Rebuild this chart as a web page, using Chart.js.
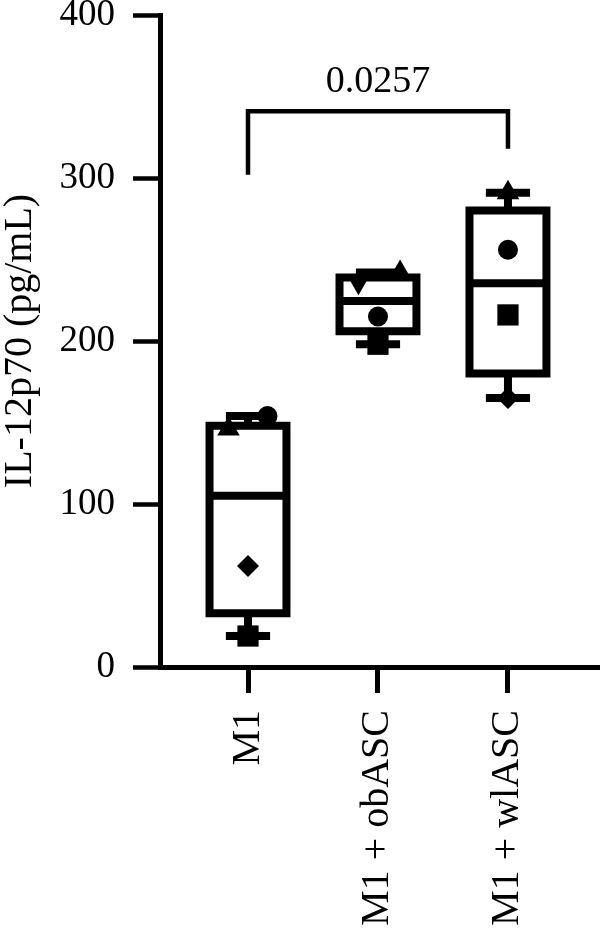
<!DOCTYPE html>
<html lang="en">
<head>
  <meta charset="UTF-8">
  <title>IL-12p70</title>
  <script src="https://cdn.jsdelivr.net/npm/chart.js"></script>
  <style>
    html, body { margin: 0; padding: 0; background: #fff; overflow: hidden; }
    #wrap { width: 600px; height: 929px; position: relative; }
    canvas { display: block; }
  </style>
</head>
<body>
  <div id="wrap"><canvas id="chart" width="600" height="929"></canvas></div>
  <script>
    // groups and box summaries (pg/mL)
    const groups = ['M1', 'M1 + obASC', 'M1 + wlASC'];
    const boxMin = [19, 198, 165];
    const boxQ1 = [33, 206, 180];
    const boxMedian = [105, 224.5, 235.5];
    const boxQ3 = [148, 239, 280];
    const boxMax = [154, 242, 291];

    // individual replicates, one array per symbol
    const circleVals = [154, 215, 256];
    const squareVals = [19, 198, 216];
    const triangleVals = [146, 242, 291];
    const fourthVals = [62, 236, 165];

    // horizontal spread of the symbols inside each group
    const circleShift = [0.15, 0, 0];
    const squareShift = [0, 0, 0];
    const triangleShift = [-0.15, 0.17, 0];
    const fourthShift = [0, -0.15, 0];

    // comparison M1 vs M1 + wlASC
    const pValue = '0.0257';
    const bracketTop = 341;
    const bracketLeftFoot = 302;
    const bracketRightFoot = 318;

    const serif = '"Liberation Serif", "Times New Roman", serif';

    function points(vals, shift) {
      return vals.map((v, i) => ({ x: i + shift[i], y: v }));
    }

    const boxPlugin = {
      id: 'boxes',
      afterDatasetsDraw(chart) {
        const ctx = chart.ctx;
        const xs = chart.scales.x;
        const ys = chart.scales.y;
        ctx.save();
        ctx.strokeStyle = '#000';
        ctx.lineWidth = 8;
        ctx.lineJoin = 'miter';
        ctx.lineCap = 'butt';
        groups.forEach((g, i) => {
          const cx = xs.getPixelForValue(i);
          const hw = xs.getPixelForValue(i + 0.296) - cx;
          const cw = xs.getPixelForValue(i + 0.17) - cx;
          const yMin = ys.getPixelForValue(boxMin[i]);
          const yQ1 = ys.getPixelForValue(boxQ1[i]);
          const yMed = ys.getPixelForValue(boxMedian[i]);
          const yQ3 = ys.getPixelForValue(boxQ3[i]);
          const yMax = ys.getPixelForValue(boxMax[i]);
          ctx.beginPath();
          ctx.rect(cx - hw, yQ3, 2 * hw, yQ1 - yQ3);
          ctx.moveTo(cx - hw, yMed); ctx.lineTo(cx + hw, yMed);
          ctx.moveTo(cx, yQ3); ctx.lineTo(cx, yMax);
          ctx.moveTo(cx - cw, yMax); ctx.lineTo(cx + cw, yMax);
          ctx.moveTo(cx, yQ1); ctx.lineTo(cx, yMin);
          ctx.moveTo(cx - cw, yMin); ctx.lineTo(cx + cw, yMin);
          ctx.stroke();
        });

        // significance bracket
        const x0 = xs.getPixelForValue(0);
        const x2 = xs.getPixelForValue(2);
        const yt = ys.getPixelForValue(bracketTop);
        ctx.lineWidth = 4.5;
        ctx.beginPath();
        ctx.moveTo(x0, ys.getPixelForValue(bracketLeftFoot));
        ctx.lineTo(x0, yt);
        ctx.lineTo(x2, yt);
        ctx.lineTo(x2, ys.getPixelForValue(bracketRightFoot));
        ctx.stroke();
        ctx.fillStyle = '#000';
        ctx.font = '38px ' + serif;
        ctx.textAlign = 'center';
        ctx.textBaseline = 'alphabetic';
        ctx.fillText(pValue, xs.getPixelForValue(1), yt - 19);
        ctx.restore();
      }
    };

    new Chart(document.getElementById('chart'), {
      type: 'scatter',
      data: {
        datasets: [
          { data: points(circleVals, circleShift), pointStyle: 'circle', pointRadius: 10 },
          { data: points(squareVals, squareShift), pointStyle: 'rect', pointRadius: 15 },
          { data: points(triangleVals, triangleShift), pointStyle: 'triangle', pointRadius: 13 },
          { data: points(fourthVals, fourthShift), pointStyle: ['rectRot', 'triangle', 'rectRot'],
            rotation: [0, 180, 0], pointRadius: [11, 13, 11] }
        ].map(d => Object.assign(d, {
          backgroundColor: '#000', borderColor: '#000', borderWidth: 0, pointHoverRadius: d.pointRadius
        }))
      },
      options: {
        responsive: false,
        animation: false,
        events: [],
        layout: { autoPadding: false, padding: { top: 15, right: 0, left: 0, bottom: 0 } },
        plugins: { legend: { display: false }, tooltip: { enabled: false } },
        scales: {
          x: {
            type: 'linear',
            min: -0.677,
            max: 2.708,
            afterBuildTicks: s => { s.ticks = groups.map((g, i) => ({ value: i })); },
            afterFit: s => { s.height = 262; s.paddingLeft = 0; s.paddingRight = 0; },
            border: { display: true, color: '#000', width: 5 },
            grid: { drawOnChartArea: false, drawTicks: true, tickLength: 26, tickWidth: 5, tickColor: '#000' },
            ticks: {
              autoSkip: false,
              minRotation: 90,
              maxRotation: 90,
              padding: 17,
              color: '#000',
              font: { family: serif, size: 40 },
              callback: v => groups[v]
            }
          },
          y: {
            min: 0,
            max: 400,
            afterFit: s => { s.width = 160; s.paddingTop = 0; s.paddingBottom = 0; },
            border: { display: true, color: '#000', width: 5 },
            grid: { drawOnChartArea: false, drawTicks: true, tickLength: 27, tickWidth: 4.5, tickColor: '#000' },
            ticks: {
              stepSize: 100,
              padding: 18,
              color: '#000',
              font: { family: serif, size: 37 }
            },
            title: {
              display: true,
              text: 'IL-12p70 (pg/mL)',
              color: '#000',
              padding: 0,
              font: { family: serif, size: 40, lineHeight: 1 }
            }
          }
        }
      },
      plugins: [boxPlugin]
    });
  </script>
</body>
</html>
